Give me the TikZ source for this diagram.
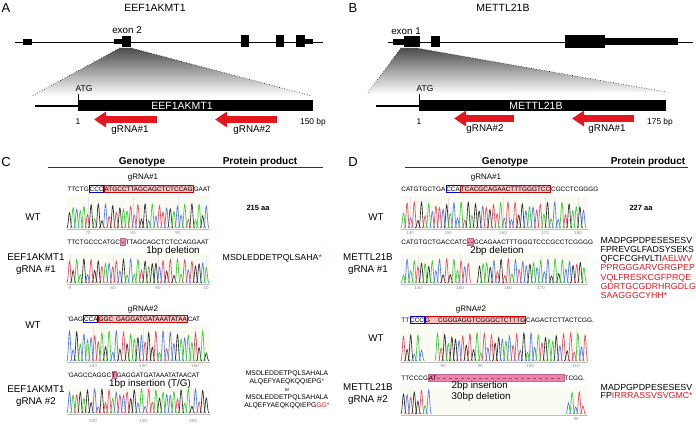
\documentclass[tikz,border=0pt]{standalone}
\usepackage{fontspec}
\setmainfont{Liberation Sans}
\usetikzlibrary{positioning,arrows.meta}
\definecolor{gRed}{RGB}{228,22,30}
\definecolor{tRed}{RGB}{236,70,96}
\definecolor{tBlue}{RGB}{80,120,235}
\definecolor{tGreen}{RGB}{50,205,50}
\definecolor{tBlack}{RGB}{45,45,45}
\definecolor{chromBg}{RGB}{251,251,244}
\definecolor{mutPink}{RGB}{240,130,175}
\newcommand{\fs}[1]{\fontsize{#1}{#1}\selectfont}
\newcommand{\chrombox}[4]{\fill[chromBg] (#1,#3) rectangle (#2,#4);
  \draw[black!25,line width=0.4pt] (#1,#4) -- (#2,#4);}
\newcommand{\peaks}[5]{%
  \pgfmathtruncatemacro{\npk}{(#2-#1-5)/3.6}
  \foreach \k in {0,...,\npk}{
    \pgfmathsetmacro{\px}{#1+2.5+\k*3.6}
    \pgfmathsetmacro{\ph}{#4*(0.25+0.75*abs(sin(\k*97+#5*31)))}
    \pgfmathtruncatemacro{\pc}{mod(\k*5+#5+int(3*abs(cos(\k*71+#5*13))),4)}
    \ifcase\pc\def\pcol{tRed}\or\def\pcol{tBlue}\or\def\pcol{tGreen}\else\def\pcol{tBlack}\fi
    \draw[\pcol,line width=0.65pt] (\px-2.7,#3) .. controls (\px-1.2,#3) and (\px-0.9,#3-\ph) .. (\px,#3-\ph) .. controls (\px+0.9,#3-\ph) and (\px+1.2,#3) .. (\px+2.7,#3);
  }%
}
\begin{document}
\begin{tikzpicture}[x=1pt,y=-1pt]
        \tikzstyle{every node}=[inner sep=0.5pt, text=black]
        \tikzstyle{panel}=[font=\fs{13}]
        \tikzstyle{title}=[font=\fs{10.5}]
        \tikzstyle{lbl}=[font=\fs{9.8}]
        \tikzstyle{bplbl}=[font=\fs{8.4}]
        \tikzstyle{head}=[font=\bfseries\fs{10}]
        \tikzstyle{geno}=[font=\fontsize{9.8}{12}\selectfont, align=center]
        \tikzstyle{seq}=[font=\fs{6.4}, inner xsep=0.2pt, inner ysep=1.3pt, text height=4.6pt, text depth=0pt]
        \tikzstyle{pam}=[draw=blue!85!black, line width=0.8pt]
        \tikzstyle{target}=[draw=red!80!black, fill=red!25, line width=0.6pt]
        \tikzstyle{mut}=[draw=mutPink!80!black, fill=mutPink, line width=0.4pt]
        \tikzstyle{ticklbl}=[font=\fs{4.5}, text=black!45]
        \tikzstyle{prot}=[font=\fontsize{8.8}{9.2}\selectfont, align=left, anchor=west]
        \tikzstyle{grna}=[gRed, line width=7pt, -{Triangle[length=12pt,width=15pt]}]
        \tikzstyle{exon}=[fill=black]
        \tikzstyle{zoomline}=[dotted, line width=0.6pt]
        \useasboundingbox (0,0) rectangle (696,425);

        \node[panel] (pa) at (6,8) {A};
        \node[title] (ta) at (155,8) {EEF1AKMT1};
        \node[lbl] (ex2) at (127,30) {exon 2};
        \draw[line width=0.8pt] (15,42) -- (323,42);
        \fill[exon] (23,39) rectangle (32,45);
        \fill[exon] (114,39.5) rectangle (122,44.5);
        \fill[exon] (122,36) rectangle (131,47);
        \fill[exon] (241,35) rectangle (249,47);
        \fill[exon] (276,35) rectangle (284,47);
        \fill[exon] (296,35) rectangle (305,47);
        \fill[exon] (305,39.5) rectangle (313,44.5);
        \coordinate (aex1) at (120,48);
        \coordinate (aex2) at (131,48);
        \coordinate (abar1) at (32,96);
        \coordinate (abar2) at (312,96);
        \shade[top color=black!70, bottom color=white] (aex1) -- (aex2) -- (abar2) -- (abar1) -- cycle;
        \draw[zoomline] (aex1) -- (abar1);
        \draw[zoomline] (aex2) -- (abar2);
        \draw[line width=2pt] (35,106) -- (78,106);
        \fill[exon] (78,100) rectangle (313,111);
        \draw[line width=0.8pt] (78,94) -- (78,100);
        \node[bplbl] (aatg) at (84,89) {ATG};
        \node[title, text=white] (abar) at (182,106) {EEF1AKMT1};
        \node[bplbl] (aone) at (78,122) {1};
        \node[bplbl] (aend) at (313,122) {150 bp};
        \coordinate (a1tail) at (157,119.5);
        \coordinate (a1tip) at (94,119.5);
        \coordinate (a2tail) at (277,119.5);
        \coordinate (a2tip) at (215,119.5);
        \draw[grna] (a1tail) -- (a1tip);
        \draw[grna] (a2tail) -- (a2tip);
        \node[lbl] (a1lbl) at (130,130) {gRNA\#1};
        \node[lbl] (a2lbl) at (252,130) {gRNA\#2};

        \node[panel] (pb) at (353,8) {B};
        \node[title] (tb) at (503,8) {METTL21B};
        \node[lbl] (ex1) at (406,31) {exon 1};
        \draw[line width=0.8pt] (388,42) -- (693,42);
        \fill[exon] (393,39) rectangle (404,45);
        \fill[exon] (404,36) rectangle (420,47);
        \fill[exon] (431,36) rectangle (440,47);
        \fill[exon] (565,35) rectangle (605,48);
        \fill[exon] (605,38.5) rectangle (678,45.5);
        \coordinate (bex1) at (401,48);
        \coordinate (bex2) at (416,48);
        \coordinate (bbar1) at (367,94);
        \coordinate (bbar2) at (666,92);
        \shade[top color=black!70, bottom color=white] (bex1) -- (bex2) -- (bbar2) -- (bbar1) -- cycle;
        \draw[zoomline] (bex1) -- (bbar1);
        \draw[zoomline] (bex2) -- (bbar2);
        \draw[line width=2pt] (376,106) -- (419,106);
        \fill[exon] (419,100) rectangle (666,111);
        \draw[line width=0.8pt] (419,94) -- (419,100);
        \node[bplbl] (batg) at (425,89) {ATG};
        \node[title, text=white] (bbar) at (536,106) {METTL21B};
        \node[bplbl] (bone) at (419,122) {1};
        \node[bplbl] (bend) at (660,122) {175 bp};
        \coordinate (b2tail) at (514,118.5);
        \coordinate (b2tip) at (454,118.5);
        \coordinate (b1tail) at (634,118.5);
        \coordinate (b1tip) at (572,118.5);
        \draw[grna] (b2tail) -- (b2tip);
        \draw[grna] (b1tail) -- (b1tip);
        \node[lbl] (b2lbl) at (485,129) {gRNA\#2};
        \node[lbl] (b1lbl) at (607,129) {gRNA\#1};

        \node[panel] (pc) at (6,162) {C};
        \node[head] (cgeno) at (142,162) {Genotype};
        \node[head] (cprot) at (260,162) {Protein product};
        \draw[black!80, line width=0.9pt] (48,167.5) -- (323,167.5);

        \chrombox{67}{210}{196}{229}
        \foreach \tx/\tl in {88/70,133/80,178/90} {\draw[black!10] (\tx,197) -- (\tx,228); \node[ticklbl] (c1w\tl) at (\tx,232.5) {\tl};}
        \peaks{67}{210}{228}{24}{1}
        \node[lbl, font=\fs{8}] (c1g) at (143,178) {gRNA\#1};
        \node[seq, anchor=west] (c1a) at (67,189) {TTCTG};
        \node[seq, pam, right=0pt of c1a] (c1b) {CCC};
        \node[seq, target, right=0pt of c1b] (c1c) {ATGCCTTAGCAGCTCTCCAG};
        \node[seq, right=0pt of c1c] (c1d) {GAAT};
        \node[geno] (c1wt) at (33,217) {WT};
        \node[font=\bfseries\fs{7.5}] (c1aa) at (258,208) {215 aa};

        \chrombox{67}{210}{254}{284}
        \foreach \tx/\tl in {70/9,113/80,158/90,206/10} {\draw[black!10] (\tx,255) -- (\tx,283); \node[ticklbl] (c1k\tl) at (\tx,288) {\tl};}
        \peaks{67}{210}{283}{24}{2}
        \node[seq, anchor=west] (c1m1) at (67,242) {TTCTGCCCATGC};
        \node[seq, mut, right=0pt of c1m1] (c1m2) {\,-\,};
        \node[seq, right=0pt of c1m2] (c1m3) {TTAGCAGCTCTCCAGGAAT};
        \node[lbl] (c1del) at (173,251) {1bp deletion};
        \node[geno] (c1ko) at (36,264) {EEF1AKMT1\\gRNA \#1};
        \node[prot, font=\fs{8.8}] (c1prot) at (222,258) {MSDLEDDETPQLSAHA\textcolor{gRed}{*}};

        \chrombox{67}{210}{326}{362}
        \foreach \tx/\tl in {93/130,143/140,195/150} {\draw[black!10] (\tx,327) -- (\tx,361); \node[ticklbl] (c2w\tl) at (\tx,365.5) {\tl};}
        \peaks{67}{210}{361}{30}{3}
        \node[lbl, font=\fs{8}] (c2g) at (143,310) {gRNA\#2};
        \node[seq, anchor=west] (c2a) at (67,319) {'GAG};
        \node[seq, pam, right=0pt of c2a] (c2b) {CCA};
        \node[seq, target, right=0pt of c2b] (c2c) {GGC\hspace{3pt}GAGGATGATAAATATAA};
        \node[seq, right=0pt of c2c] (c2d) {CAT};
        \node[geno] (c2wt) at (33,325) {WT};

        \chrombox{67}{210}{388}{414}
        \foreach \tx/\tl in {93/130,143/140,193/150} {\draw[black!10] (\tx,389) -- (\tx,413); \node[ticklbl] (c2k\tl) at (\tx,421) {\tl};}
        \peaks{67}{210}{413}{24}{4}
        \node[seq, anchor=west] (c2m1) at (67,375) {'GAGCCAGGC};
        \node[seq, mut, right=0pt of c2m1] (c2m2) {T};
        \node[seq, right=0pt of c2m2] (c2m3) {GAGGATGATAAATATAACAT};
        \node[lbl] (c2ins) at (150,384) {1bp insertion (T/G)};
        \node[geno] (c2ko) at (36,396) {EEF1AKMT1\\gRNA \#2};
        \node[font=\fontsize{6.8}{7.9}\selectfont, align=center] (c2prot) at (287,389.5) {MSDLEDDETPQLSAHALA\\ALQEFYAEQKQQIEPG\textcolor{gRed}{*}\\{\fs{5}or}\\MSDLEDDETPQLSAHALA\\ALQEFYAEQKQQIEPG\textcolor{gRed}{GG*}};

        \node[panel] (pd) at (353,162) {D};
        \node[head] (dgeno) at (505,162) {Genotype};
        \node[head] (dprot) at (648,162) {Protein product};
        \draw[black!80, line width=0.9pt] (405,167.5) -- (688,167.5);

        \chrombox{401}{588}{196}{229}
        \foreach \tx/\tl in {410/140,448/150,503/160,545/170,578/180} {\draw[black!10] (\tx,197) -- (\tx,228); \node[ticklbl] (d1w\tl) at (\tx,232.5) {\tl};}
        \peaks{401}{588}{228}{26}{5}
        \node[lbl, font=\fs{8}] (d1g) at (486,178) {gRNA\#1};
        \node[seq, anchor=west] (d1a) at (401,189) {CATGTGCTGA};
        \node[seq, pam, right=0pt of d1a] (d1b) {CCA};
        \node[seq, target, right=0pt of d1b] (d1c) {TCACGCAGAACTTTGGGTCC};
        \node[seq, right=0pt of d1c] (d1d) {CGCCTCGGGG};
        \node[geno] (d1wt) at (376,217) {WT};
        \node[font=\bfseries\fs{7.5}] (d1aa) at (641,208) {227 aa};

        \chrombox{401}{588}{254}{284}
        \foreach \tx/\tl in {418/140,460/150,508/160,541/170} {\draw[black!10] (\tx,255) -- (\tx,283); \node[ticklbl] (d1k\tl) at (\tx,288) {\tl};}
        \peaks{401}{472}{283}{24}{6}
        \peaks{477}{588}{283}{24}{7}
        \node[seq, anchor=west] (d1m1) at (401,242) {CATGTGCTGACCATC};
        \node[seq, mut, right=0pt of d1m1] (d1m2) {-\,-};
        \node[seq, right=0pt of d1m2] (d1m3) {GCAGAACTTTGGGTCCCGCCTCGGGG};
        \node[lbl] (d1del) at (497,251) {2bp deletion};
        \node[geno] (d1ko) at (368,264) {METTL21B\\gRNA \#1};
        \node[prot, anchor=north west] (d1prot) at (600,236.5) {MADPGPDPESESESV\\FPREVGLFADSYSEKS\\QFCFCGHVLTI\textcolor{gRed}{AELWV}\\\textcolor{gRed}{PPRGGGARVGRGPEP}\\\textcolor{gRed}{VQLFRESKCGFPRQE}\\\textcolor{gRed}{GDRTGCGDRHRGDLG}\\\textcolor{gRed}{SAAGGGCYHH*}};

        \chrombox{401}{588}{328}{362}
        \foreach \tx/\tl in {443/80,480/90,530/100,576/110} {\draw[black!10] (\tx,329) -- (\tx,361); \node[ticklbl] (d2w\tl) at (\tx,366) {\tl};}
        \peaks{401}{427}{361}{26}{8}
        \peaks{435}{588}{361}{28}{9}
        \node[lbl, font=\fs{8}] (d2g) at (471,310) {gRNA\#2};
        \node[seq, anchor=west] (d2a) at (401,320) {TT};
        \node[seq, pam, right=0pt of d2a] (d2b) {CCC};
        \node[seq, target, right=0pt of d2b] (d2c) {G\hspace{8pt}CGGGAGGTCGGGCTCTTTG};
        \node[seq, right=0pt of d2c] (d2d) {CAGACTCTTACTCGG.};
        \node[geno] (d2wt) at (376,338) {WT};

        \chrombox{401}{588}{386}{415}
        \foreach \tx/\tl in {576/90} {\node[ticklbl] (d2k\tl) at (\tx,419) {\tl};}
        \peaks{401}{432}{414}{24}{10}
        \peaks{566}{588}{414}{22}{11}
        \node[seq, anchor=west] (d2m1) at (401,378) {TTCCCG};
        \node[seq, mut, right=0pt of d2m1, text width=135pt] (d2m2) {AT};
        \draw[dashed, mutPink!60!black, line width=0.4pt] ([xshift=9pt]d2m2.west) -- ([xshift=-2pt]d2m2.east);
        \node[seq, right=0pt of d2m2] (d2m3) {TCGG.};
        \node[lbl, anchor=west] (d2ins) at (451,386) {2bp insertion};
        \node[lbl, anchor=west] (d2del) at (451,397) {30bp deletion};
        \node[geno] (d2ko) at (368,394) {METTL21B\\gRNA \#2};
        \node[prot] (d2prot1) at (600,387) {MADPGPDPESESESV};
        \node[prot] (d2prot2) at (600,395.5) {FP\textcolor{gRed}{IRRRASSVSVGMC*}};
\end{tikzpicture}
\end{document}
